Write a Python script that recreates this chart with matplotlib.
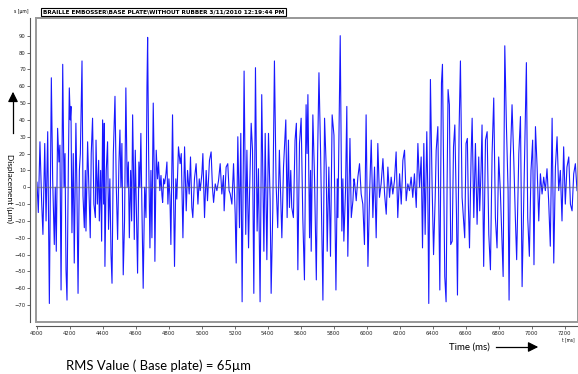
import numpy as np
import matplotlib
matplotlib.use("Agg")
import matplotlib.pyplot as plt
from matplotlib.patches import Rectangle

# Displacement signal as (time ms, value um) extrema,
# split into the four strips it was read from.
t_a = [4000, 4008, 4018, 4028, 4036, 4047, 4055, 4065, 4075, 4087, 4095, 4105, 4111, 4117,
       4125, 4133, 4139, 4146, 4156, 4164, 4170, 4176, 4182, 4190, 4196, 4202, 4206, 4212,
       4220, 4226, 4236, 4242, 4249, 4257, 4263, 4273, 4279, 4287, 4293, 4297, 4307, 4313,
       4323, 4329, 4337, 4345, 4354, 4358, 4366, 4374, 4378, 4386, 4392, 4398, 4404, 4408,
       4412, 4420, 4428, 4434, 4442, 4449, 4455, 4463, 4473, 4481, 4489, 4497, 4503, 4509,
       4515, 4523, 4531, 4539, 4547, 4554, 4560, 4568, 4574, 4580, 4586, 4590, 4596, 4604,
       4610, 4618, 4624, 4630, 4636, 4644, 4653, 4661, 4667, 4671, 4677, 4685, 4691, 4697,
       4705, 4711, 4715, 4723, 4731, 4737, 4745, 4752, 4758, 4762, 4768, 4774, 4782, 4788,
       4794, 4800, 4806, 4812]
v_a = [3, -15, 27, -8, -28, 26, -20, 33, -69, 65, 5, -34, 0, -38,
       35, 15, 25, -61, 73, 0, 20, -49, -67, 10, 59, 40, 48, -27,
       20, -45, 38, 0, -63, 10, 20, 75, -5, -24, 10, -26, 27, 5,
       -30, 20, 41, -10, -18, 28, -10, 16, -20, 10, -32, 40, -10, 38,
       -47, 10, 27, -25, 5, -40, -57, 20, 54, 0, -31, 15, 34, 0,
       26, -52, -20, 59, 0, 15, -30, 10, -20, 43, 5, -31, 22, -20,
       -51, 15, 0, 32, -10, -60, 0, -18, 60, 89, 20, -36, 10, -30,
       50, 10, -44, 22, 5, 15, -2, 7, -5, -9, 5, 2, 8, 15,
       -10, 5, -5, -34]

t_b = [4822, 4834, 4842, 4848, 4858, 4868, 4875, 4885, 4895, 4905, 4913, 4923, 4931, 4939,
       4945, 4955, 4965, 4976, 4984, 4990, 5000, 5006, 5016, 5026, 5034, 5046, 5056, 5064,
       5071, 5081, 5091, 5101, 5111, 5121, 5131, 5135, 5147, 5157, 5165, 5172, 5182, 5192,
       5202, 5208, 5218, 5228, 5236, 5244, 5256, 5266, 5273, 5283, 5289, 5299, 5307, 5315,
       5325, 5335, 5343, 5353, 5363, 5376, 5384, 5394, 5404, 5414, 5420, 5430, 5440, 5450,
       5460, 5470, 5479, 5485, 5495, 5509, 5517, 5525, 5531, 5539, 5545, 5555, 5565, 5573,
       5582, 5592, 5602, 5612, 5622, 5632, 5638]
v_b = [43, -47, 5, -7, 24, 14, 20, -30, 24, -14, 10, -4, 18, -12,
       -18, 5, 14, -10, 5, -2, 8, 20, -18, 10, -8, 16, 21, 0,
       -9, 2, -2, 4, 14, -4, 7, -14, 12, 14, -2, -4, -10, 14,
       -16, -45, 30, -24, 32, -68, 69, -28, 22, -36, -4, 38, 22, -63,
       71, -26, 11, -68, 55, -38, 32, -43, 32, -8, -63, -14, 75, 2,
       -24, 22, -10, -30, 12, 40, -18, 28, -12, 10, -12, -18, 28, 38,
       -49, 26, 41, -18, -55, 49, 20]

t_c = [5643, 5653, 5659, 5663, 5673, 5683, 5694, 5702, 5710, 5720, 5726, 5734, 5744, 5754,
       5760, 5770, 5780, 5790, 5801, 5813, 5821, 5825, 5839, 5849, 5855, 5861, 5871, 5879,
       5885, 5898, 5906, 5916, 5922, 5926, 5936, 5946, 5956, 5966, 5976, 5986, 5996, 6007,
       6017, 6027, 6037, 6047, 6057, 6067, 6077, 6087, 6098, 6108, 6118, 6128, 6138, 6148,
       6158, 6168, 6178, 6188, 6199, 6209, 6219, 6229, 6239, 6249, 6259, 6269, 6279, 6289,
       6300, 6310, 6320, 6330, 6338, 6346, 6354, 6364, 6370, 6376, 6386, 6396, 6405, 6415,
       6421, 6431, 6443, 6453, 6459, 6465]
v_c = [55, -30, 10, -38, 43, 6, -55, 20, 68, 20, -18, -67, 41, 12,
       -38, 12, -41, 43, 31, -61, 5, -18, 90, -26, 5, -32, -2, 48,
       -41, 29, -18, -8, 5, 3, -8, 6, 14, -4, -10, -34, 43, -47,
       -4, 28, -18, 12, -30, 26, -6, 2, 17, -4, -16, 12, -6, 6,
       -4, 4, 21, -18, 8, -10, 16, 22, -8, 2, -2, 6, -6, 8,
       -12, 26, 0, 18, -36, 26, -28, 33, -2, -69, 64, 2, -40, -6,
       22, 36, -61, 62, 73, 18]

t_d = [6473, 6481, 6487, 6493, 6501, 6509, 6518, 6526, 6534, 6544, 6550, 6560, 6568, 6578,
       6586, 6594, 6602, 6610, 6616, 6623, 6633, 6639, 6649, 6659, 6669, 6679, 6685, 6693,
       6699, 6709, 6720, 6730, 6740, 6750, 6760, 6770, 6780, 6790, 6800, 6810, 6821, 6827,
       6837, 6847, 6857, 6863, 6871, 6881, 6891, 6901, 6909, 6922, 6932, 6942, 6952, 6962,
       6968, 6976, 6986, 6996, 7006, 7014, 7023, 7033, 7043, 7053, 7063, 7073, 7083, 7093,
       7103, 7113, 7124, 7134, 7144, 7154, 7164, 7174, 7184, 7194, 7204, 7214, 7225, 7235,
       7245, 7255, 7265, 7275]
v_d = [-53, -68, 0, 58, 49, -34, -32, 24, 37, -16, -64, 35, 75, -6,
       -18, -30, 26, 29, -10, -36, 20, 41, -18, 26, -22, 18, -14, 10,
       37, -47, 28, 33, -28, -49, 20, 53, -18, -36, 18, -2, -36, -53,
       84, 36, -2, -67, 18, 49, 18, -18, -43, 20, 42, -59, -8, 42,
       74, -18, -41, 10, 28, -46, 36, 12, -20, 8, -4, 6, -2, 11,
       -8, -35, 41, -45, 12, 30, -2, 10, -20, 24, -10, 12, 18, -10,
       -14, 8, 14, -2]

x_ticks = list(range(4000, 7201, 200))
y_ticks = list(range(-70, 91, 10))

t = np.concatenate([t_a, t_b, t_c, t_d])
v = np.concatenate([v_a, v_b, v_c, v_d])

fig = plt.figure(figsize=(5.78, 3.74), dpi=100)
ax = fig.add_axes([36 / 578, 1 - 322 / 374, 542 / 578, 304 / 374])

ax.plot(t, v, color="#0000ff", lw=0.8, alpha=0.9)
ax.axhline(0, color="#666666", lw=1.0, alpha=0.6, zorder=3)
ax.set_xlim(3994, 7281)
ax.set_ylim(-80, 100.5)
ax.set_xticks(x_ticks)
ax.set_yticks(y_ticks)

ax.tick_params(axis="both", direction="out", length=2.5, width=0.6, color="#555555",
               labelsize=3.8, pad=0.8, labelcolor="#222222")
for lab in ax.get_xticklabels() + ax.get_yticklabels():
    lab.set_family("DejaVu Sans")
    lab.set_stretch("condensed")

for side in ["top", "right"]:
    ax.spines[side].set_color("#888888")
    ax.spines[side].set_linewidth(1.2)
ax.spines["left"].set_position(("outward", 4))
ax.spines["bottom"].set_position(("outward", 3))
for side in ["left", "bottom"]:
    ax.spines[side].set_color("#555555")
    ax.spines[side].set_linewidth(0.8)
ax.add_patch(Rectangle((0, 0), 1, 1, transform=ax.transAxes, fill=False,
                       edgecolor="#999999", lw=1.4, clip_on=False, zorder=4))

# header texts
fig.text(21 / 578, 1 - 12 / 374, "s [µm]", fontsize=3.6, ha="center", va="center",
         family="DejaVu Sans", stretch="condensed")
fig.text(43 / 578, 1 - 12 / 374,
         "BRAILLE EMBOSSER\\BASE PLATE\\WITHOUT RUBBER 3/11/2010 12:19:44 PM",
         fontsize=4.6, fontweight="bold", ha="left", va="center",
         family="DejaVu Sans", stretch="condensed",
         bbox=dict(boxstyle="square,pad=0.3", fc="white", ec="black", lw=0.8))
fig.text(568 / 578, 1 - 340 / 374, "t [ms]", fontsize=3.3, ha="center", va="center",
         family="DejaVu Sans", stretch="condensed")

# axis captions with arrows
fig.text(10 / 578, 1 - 188 / 374, "Displacement (µm)", rotation=270, fontsize=6,
         ha="center", va="center", family=["Lato", "DejaVu Sans"])
fig.add_artist(plt.Line2D([13 / 578, 13 / 578], [1 - 133 / 374, 1 - 98 / 374],
                          color="black", lw=0.9))
ax.annotate("", xy=(13 / 578, 1 - 89 / 374), xycoords="figure fraction",
            xytext=(13 / 578, 1 - 99 / 374), textcoords="figure fraction",
            arrowprops=dict(arrowstyle="-|>,head_length=0.6,head_width=0.3",
                            color="black", lw=0.9))

fig.text(469 / 578, 1 - 347 / 374, "Time (ms)", fontsize=7, ha="center", va="center",
         family=["Lato", "DejaVu Sans"])
fig.add_artist(plt.Line2D([496 / 578, 532 / 578], [1 - 347 / 374, 1 - 347 / 374],
                          color="black", lw=0.9))
ax.annotate("", xy=(541 / 578, 1 - 347 / 374), xycoords="figure fraction",
            xytext=(531 / 578, 1 - 347 / 374), textcoords="figure fraction",
            arrowprops=dict(arrowstyle="-|>,head_length=0.6,head_width=0.3",
                            color="black", lw=0.9))

fig.text(66 / 578, 1 - 366 / 374, "RMS Value ( Base plate) = 65µm", fontsize=9.4,
         ha="left", va="center", family=["Lato", "DejaVu Sans"])

fig.savefig("out.png", dpi=100)
